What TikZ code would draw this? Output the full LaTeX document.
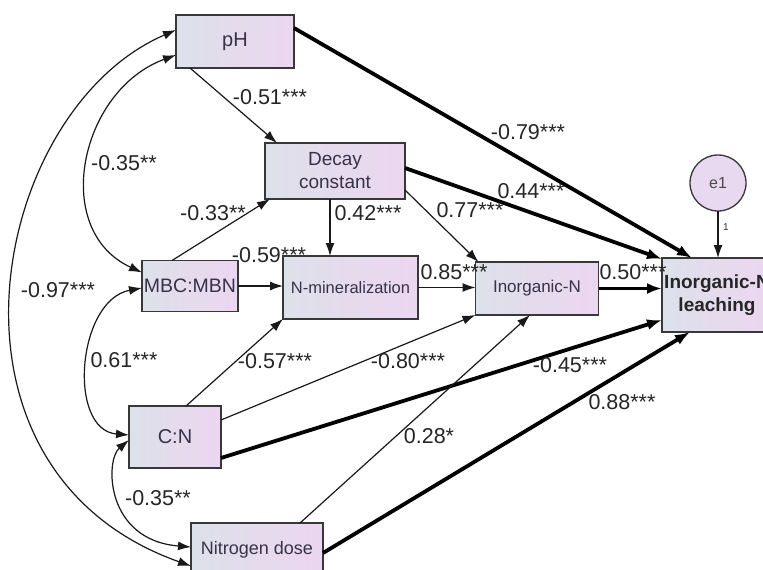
\documentclass[tikz,border=0pt]{standalone}
\usepackage{fontspec}
\setmainfont{Liberation Sans}
\usetikzlibrary{arrows.meta}
\definecolor{boxL}{RGB}{221,225,234}
\definecolor{boxR}{RGB}{236,214,240}
\definecolor{circf}{RGB}{232,216,240}
\definecolor{txt}{RGB}{55,50,72}
\begin{document}
\begin{tikzpicture}[x=1pt,y=-1pt,
  box/.style={draw=black!78, line width=1.3pt, left color=boxL, right color=boxR,
    inner sep=0pt, outer sep=0pt, text=txt, align=center},
  thinar/.style={line width=1.2pt, draw=black!90, -{Latex[length=13pt,width=9pt]}},
  thickar/.style={line width=3.8pt, draw=black, -{Latex[length=15pt,width=11pt]}},
  covar/.style={line width=1.2pt, draw=black!90, {Latex[length=13pt,width=9pt]}-{Latex[length=13pt,width=9pt]}},
  lab/.style={font=\fontsize{21.5}{22}\selectfont, text=black!85, inner sep=0pt}
]
\clip (0,0) rectangle (763,570);
\fill[white] (0,0) rectangle (763,570);
\useasboundingbox (0,0) rectangle (763,570);

% nodes
\node[box, minimum width=118pt, minimum height=53pt, font=\fontsize{20}{22}\selectfont] (pH) at (235,41.5) {pH};
\node[box, minimum width=140pt, minimum height=56pt, font=\fontsize{19}{23}\selectfont] (Decay) at (335,171) {Decay\\constant};
\node[box, minimum width=96pt, minimum height=51pt, font=\fontsize{19.5}{22}\selectfont] (MBC) at (190,286) {MBC:MBN};
\node[box, minimum width=135pt, minimum height=63pt, font=\fontsize{16.5}{20}\selectfont] (Nmin) at (350.5,287.5) {N-mineralization};
\node[box, minimum width=123pt, minimum height=53pt, font=\fontsize{17}{20}\selectfont] (InN) at (537,288.5) {Inorganic-N};
\node[box, minimum width=110pt, minimum height=74pt, font=\fontsize{19}{23}\selectfont\bfseries, text=black!85] (Leach) at (717,295) {Inorganic-N\\leaching};
\node[box, minimum width=92pt, minimum height=62pt, font=\fontsize{20}{22}\selectfont] (CN) at (175,437) {C:N};
\node[box, minimum width=132pt, minimum height=54pt, font=\fontsize{18}{22}\selectfont] (Ndose) at (257,550) {Nitrogen dose};
\node[draw=black!78, line width=1.3pt, fill=circf, circle, minimum size=56pt, inner sep=0pt, outer sep=0pt,
  text=black!70, font=\fontsize{16}{18}\selectfont] (e1) at (718,183) {e1};

% thick paths
\draw[thickar] ([yshift=-13pt]pH.north east) -- ([xshift=30pt]Leach.north west);
\draw[thickar] ([yshift=-25pt]Decay.north east) -- ([yshift=-1pt]Leach.north west);
\draw[thickar] (InN.east) -- (InN.east -| Leach.west);
\draw[thickar] ([yshift=10pt]CN.south east) -- ([yshift=12pt]Leach.south west);
\draw[thickar] ([yshift=-3pt]Ndose.east) -- ([xshift=28pt]Leach.south west);

% thin paths
\draw[thinar] ([xshift=14pt]pH.south west) -- ([xshift=12pt]Decay.north west);
\draw[thinar] ([yshift=9pt]Decay.south east) -- ([xshift=3pt]InN.north west);
\draw[thinar] ([xshift=-5pt]Decay.south) -- ([xshift=-20.5pt]Nmin.north);
\draw[thinar] ([xshift=-18pt]MBC.north) -- ([xshift=5pt]Decay.south west);
\draw[thinar] (MBC.east) -- (MBC.east -| Nmin.west);
\draw[thinar] (Nmin.east) -- (Nmin.east -| InN.west);
\draw[thinar] ([xshift=11pt]CN.north) -- (Nmin.south west);
\draw[thinar] ([yshift=-14pt]CN.north east) -- (InN.south west);
\draw[thinar] ([xshift=-23pt]Ndose.north east) -- ([xshift=-7pt]InN.south);
\draw[thinar] (e1.south) -- (e1.south |- Leach.north);

% covariances
\draw[covar] ([yshift=13pt]pH.south west) .. controls (80,90) and (50,230) .. ([yshift=-12pt]MBC.north west);
\draw[covar] ([yshift=-15pt]pH.north west) .. controls (-10,110) and (-80,470) .. ([yshift=-16pt]Ndose.west);
\draw[covar] ([yshift=-2pt]MBC.west) .. controls (77,300) and (67,430) .. ([yshift=2pt]CN.west);
\draw[covar] ([yshift=-3pt]CN.west) .. controls (105,460) and (105,540) .. ([yshift=3pt]Ndose.west);

% labels
\node[lab] (l1) at (270,97) {-0.51***};
\node[lab] (l2) at (124,163) {-0.35**};
\node[lab] (l3) at (213,213) {-0.33**};
\node[lab] (l4) at (368,213) {0.42***};
\node[lab] (l5) at (269,255) {-0.59***};
\node[lab] (l6) at (470,210) {0.77***};
\node[lab] (l7) at (531,191) {0.44***};
\node[lab] (l8) at (528,132) {-0.79***};
\node[lab] (l9) at (454,272) {0.85***};
\node[lab] (l10) at (633,272) {0.50***};
\node[lab] (l11) at (124,360) {0.61***};
\node[lab] (l12) at (275,361) {-0.57***};
\node[lab] (l13) at (408,361) {-0.80***};
\node[lab] (l14) at (570,365) {-0.45***};
\node[lab] (l15) at (622,402) {0.88***};
\node[lab] (l16) at (429,436) {0.28*};
\node[lab] (l17) at (158,498) {-0.35**};
\node[lab] (l18) at (58,290) {-0.97***};
\node[inner sep=0pt, font=\fontsize{10}{10}\selectfont, text=black!80] (one) at (726,227) {1};
\end{tikzpicture}
\end{document}
